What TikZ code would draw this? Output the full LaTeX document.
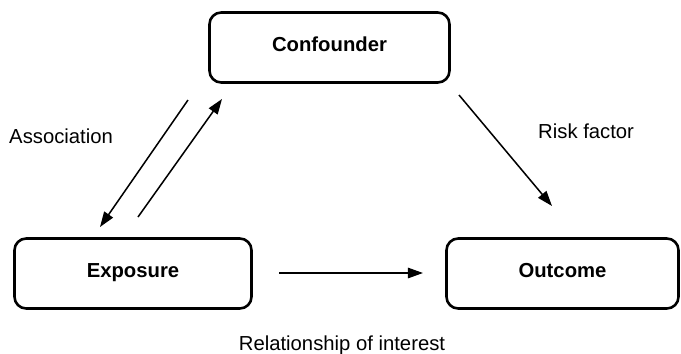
\documentclass[tikz,border=0pt]{standalone}
\usepackage{fontspec}
\setmainfont{Liberation Sans}
\usetikzlibrary{arrows.meta,positioning}

\begin{document}
\begin{tikzpicture}[x=0.3mm,y=-0.3mm,
  box/.style={draw,line width=2.2pt,rounded corners=10pt,minimum height=21mm,
    text height=0.716em,text depth=0pt,
    font=\fontsize{17.3}{20}\selectfont\bfseries},
  lab/.style={font=\fontsize{17.3}{20}\selectfont,inner sep=0pt},
  arr/.style={line width=1.3pt,-{Triangle[length=13pt,width=9pt]}}]
\useasboundingbox (0,0) rectangle (681,353);
% boxes
\node[box,minimum width=72mm] (conf) at (329.5,47.5) {Confounder};
\node[box,minimum width=71.1mm] (expo) at (133,273.5) {Exposure};
\node[box,minimum width=69.6mm] (outc) at (562.5,273.5) {Outcome};
% arrow ends
\coordinate (ce) at (188,100);
\coordinate (ec) at (222,99);
\coordinate (ex) at (100,227);
\coordinate (xe) at (138,217);
\coordinate (co) at (459,95);
\coordinate (oc) at (552,206);
\coordinate (eo) at (279,273);
\coordinate (oe) at (423,273);
% connectors
\draw[arr] (ce) -- (ex);
\draw[arr] (xe) -- (ec);
\draw[arr] (co) -- (oc);
\draw[arr] (eo) -- (oe);
% labels
\node[lab,anchor=base west] (assoc) at (9,143) {Association};
\node[lab,anchor=base west] (risk) at (538,138) {Risk factor};
\node[lab,anchor=base] (inter) at (342,350) {Relationship of interest};
\end{tikzpicture}
\end{document}
